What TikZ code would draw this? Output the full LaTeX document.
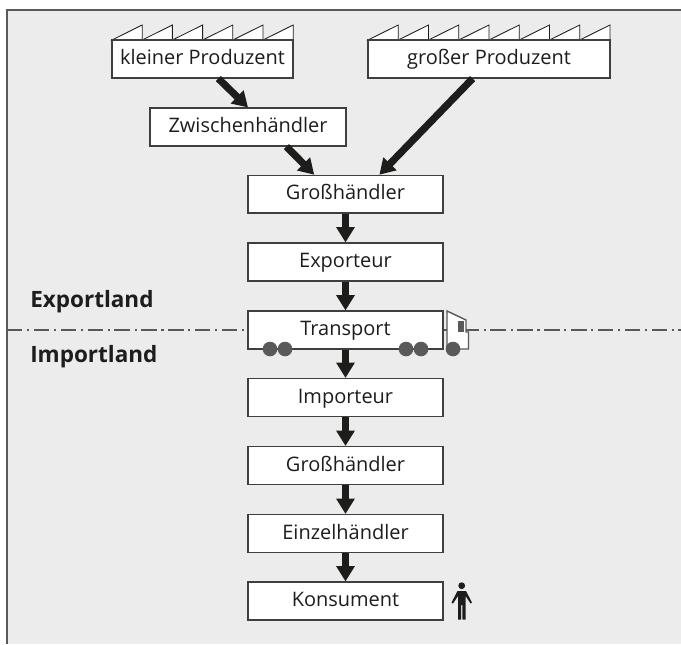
\documentclass[tikz,border=0pt]{standalone}
\usepackage{fontspec}
\setmainfont{Open Sans}
\usetikzlibrary{arrows.meta}
\definecolor{bgfill}{HTML}{ECECEC}
\definecolor{darkline}{HTML}{1D1D1B}
\definecolor{wheelgray}{HTML}{595959}
\tikzset{
  stufe/.style={draw=darkline!85,line width=1.1pt,fill=white,minimum height=0.94cm,inner sep=0pt,text height=10.1pt,text depth=2.1pt,font=\fontsize{14.2}{16}\selectfont,text=darkline},
  pfeil/.style={draw=darkline,line width=0.18cm,-{Triangle[width=0.44cm,length=0.38cm]}},
  zacke/.style={draw=darkline,line width=0.6pt,fill=white},
  land/.style={font=\fontsize{16}{18}\selectfont\bfseries,text=darkline,anchor=west,inner sep=0pt},
}
\begin{document}
\begin{tikzpicture}[x=0.025cm,y=-0.025cm]
\useasboundingbox (0,0) rectangle (681,644);
\fill[bgfill] (7,10) rectangle (681,644);
\draw[wheelgray,line width=1.4pt] (681,10) -- (7,10) -- (7,644);

% grenze
\draw[wheelgray,line width=1pt,dash pattern=on 11pt off 3.3pt on 1.5pt off 3.3pt] (7,330) -- (681,330);
\node[land] (exportland) at (30,302) {Exportland};
\node[land] (importland) at (30,357) {Importland};

% sheds
\foreach \x in {112,142.2,...,263} {
\draw[zacke] (\x,40) -- (\x+30.2,25) -- (\x+30.2,40) -- cycle;
}
\foreach \x in {368,398.25,...,580} {
\draw[zacke] (\x,40) -- (\x+30.25,25) -- (\x+30.25,40) -- cycle;
}

\node[stufe,minimum width=4.52cm] (klein) at (202.5,59) {kleiner Produzent};
\node[stufe,minimum width=6.05cm] (gross) at (489,59) {großer Produzent};
\node[stufe,minimum width=4.9cm] (zwischen) at (248,127) {Zwischenhändler};
\node[stufe,minimum width=4.87cm] (grossh) at (345.5,194.3) {Großhändler};
\node[stufe,minimum width=4.87cm] (exporteur) at (345.5,262) {Exporteur};
\node[stufe,minimum width=4.87cm] (transport) at (345.5,330) {Transport};
\node[stufe,minimum width=4.87cm] (importeur) at (345.5,397.5) {Importeur};
\node[stufe,minimum width=4.87cm] (grossh2) at (345.5,465.5) {Großhändler};
\node[stufe,minimum width=4.87cm] (einzel) at (345.5,533.5) {Einzelhändler};
\node[stufe,minimum width=4.87cm] (konsument) at (345.5,601) {Konsument};

% lkw
\draw[zacke,draw=wheelgray,line width=1pt] (447,311) -- (466,320) -- (466,332) -- (468.5,332) -- (468.5,349) -- (447,349) -- cycle;
\fill[wheelgray] (458,321) rectangle (464,332);
\foreach \x in {270,285,406,421,453} {
\fill[wheelgray] (\x,349) circle (7.3);
}

% pfeile
\draw[pfeil] (klein.-51) -- (zwischen.north);
\draw[pfeil] (zwischen.-27) -- (grossh.148);
\draw[pfeil] (gross.-130) -- (grossh.30);
\draw[pfeil] (grossh) -- (exporteur);
\draw[pfeil] (exporteur) -- (transport);
\draw[pfeil] (transport) -- (importeur);
\draw[pfeil] (importeur) -- (grossh2);
\draw[pfeil] (grossh2) -- (einzel);
\draw[pfeil] (einzel) -- (konsument);

% person
\fill[darkline] (461.7,585.7) circle (3.4);
\fill[darkline] (457.5,591) -- (466,591) -- (472,602.5) -- (470.5,603.5) -- (465.5,596) -- (465.5,619.5) -- (462.5,619.5) -- (462.3,605) -- (461.2,605) -- (461,619.5) -- (458,619.5) -- (458,596) -- (453,603.5) -- (451.5,602.5) -- cycle;
\end{tikzpicture}
\end{document}
